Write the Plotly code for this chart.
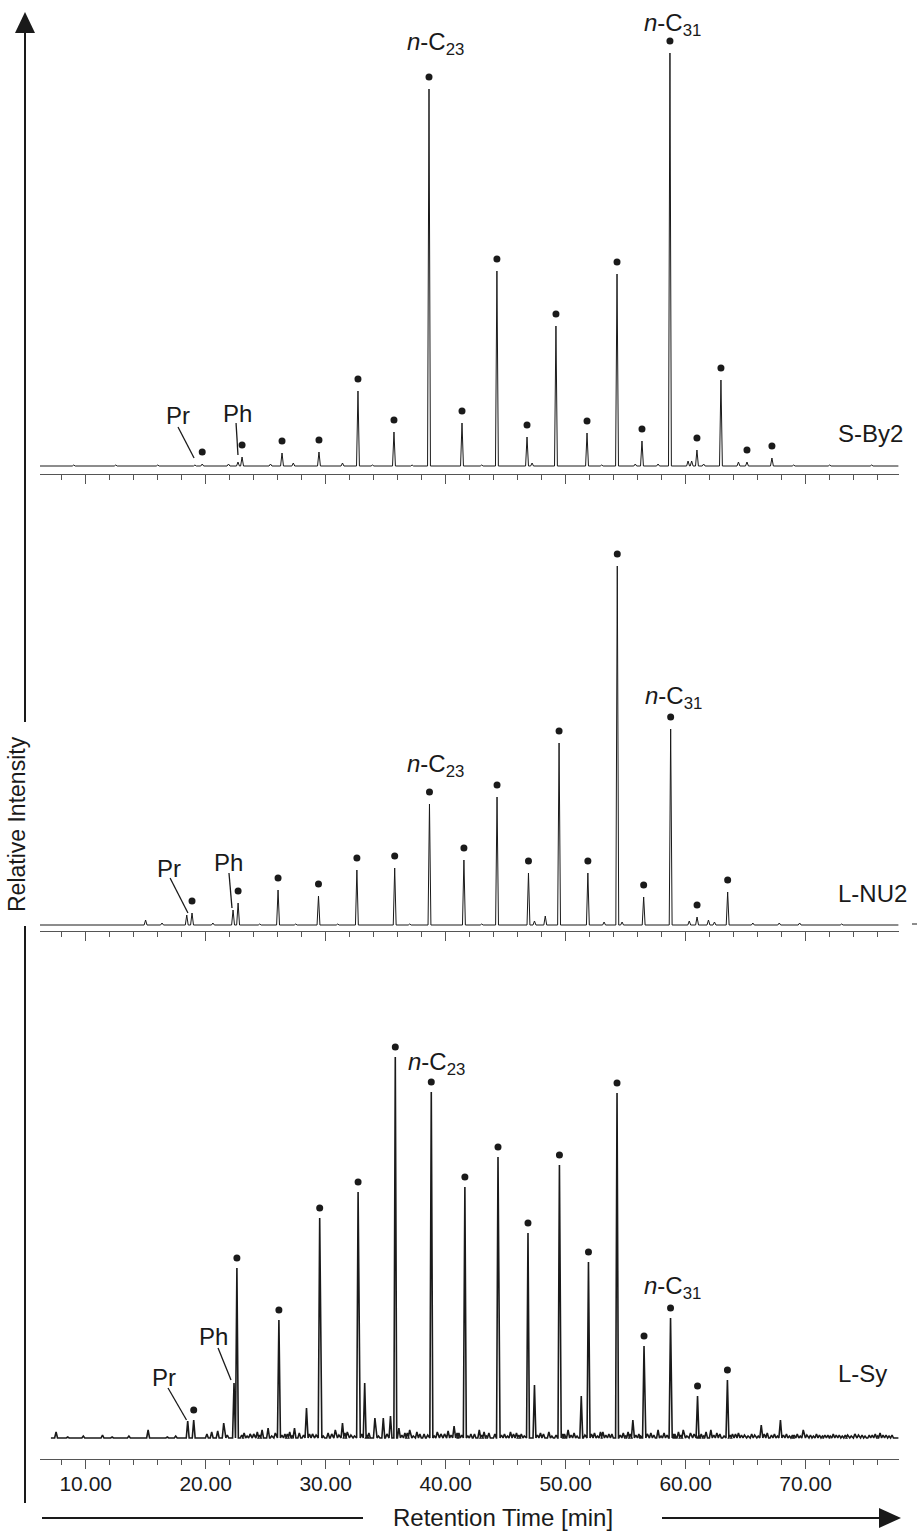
import numpy as np
import plotly.graph_objects as go

W, H = 919, 1532

# ------------------------------------------------------------------
# DATA  (retention time in min, intensity in arbitrary units)
# ------------------------------------------------------------------
# n-alkanes C17 ... C35 (S-By2), C17 ... C33 (L-NU2, L-Sy)
SBY2_ALK_T = [19.71, 23.03, 26.36, 29.44, 32.69, 35.69, 38.61, 41.36, 44.27, 46.78,
              49.19, 51.78, 54.28, 56.36, 58.69, 60.94, 62.94, 65.11, 67.19]
SBY2_ALK_I = [2, 9, 13, 14, 75, 34, 377, 43, 195, 29, 140, 33, 192, 25, 413, 16, 86, 4, 8]
SBY2_PRPH_T = [19.10, 22.69]
SBY2_PRPH_I = [1, 4]
SBY2_MINOR_T = [9.0, 12.5, 16.0, 21.9, 25.4, 27.3, 31.4, 33.9, 37.2, 43.0, 47.2, 53.0,
                55.8, 57.7, 60.2, 60.5, 61.5, 64.4, 69.0, 72.0, 75.5]
SBY2_MINOR_I = [1, 1, 1, 2, 2, 3, 3, 1, 1, 1, 3, 1, 2, 2, 5, 5, 2, 4, 1, 1, 1]

NU2_ALK_T = [18.86, 22.70, 26.03, 29.40, 32.60, 35.75, 38.65, 41.52, 44.28, 46.90,
             49.45, 51.85, 54.30, 56.50, 58.75, 60.95, 63.50]
NU2_ALK_I = [12, 22, 35, 29, 55, 57, 121, 65, 128, 52, 182, 52, 359, 28, 196, 8, 33]
NU2_PRPH_T = [18.42, 22.28]
NU2_PRPH_I = [10, 15]
NU2_MINOR_T = [14.99, 16.36, 20.6, 24.5, 27.5, 31.0, 37.0, 43.0, 47.4, 48.3, 53.2,
               54.7, 60.3, 61.9, 62.4, 65.6, 67.8, 69.5, 73.0]
NU2_MINOR_I = [5, 2, 2, 1, 1, 1, 1, 1, 4, 9, 3, 3, 4, 5, 3, 2, 2, 2, 1]

SY_ALK_T = [19.00, 22.60, 26.10, 29.50, 32.70, 35.80, 38.80, 41.60, 44.36, 46.86,
            49.48, 51.90, 54.28, 56.53, 58.74, 60.99, 63.48]
SY_ALK_I = [18, 170, 118, 220, 246, 381, 346, 251, 281, 205, 273, 176, 345, 92, 120, 42, 58]
SY_PRPH_T = [18.50, 22.36]
SY_PRPH_I = [17, 55]
SY_MINOR_T = [7.53, 11.4, 15.2, 20.5, 21.0, 21.5, 24.3, 24.7, 25.2, 27.4, 28.4, 30.8,
              31.4, 33.25, 34.1, 34.8, 35.4, 36.1, 37.0, 40.7, 42.8, 47.4, 50.2, 51.3,
              53.1, 55.6, 57.7, 59.8, 62.1, 66.3, 67.9, 69.8, 76.2]
SY_MINOR_I = [6, 3, 8, 6, 7, 15, 6, 8, 10, 10, 30, 8, 15, 55, 20, 20, 22, 10, 8, 12, 8,
              53, 8, 42, 6, 18, 8, 8, 8, 13, 18, 8, 5]
SY_NOISE_T = [8.5, 9.8, 12.2, 13.6, 16.8, 17.5, 20.1, 21.8, 23.2, 23.7, 25.8, 26.6, 27.0,
              27.8, 28.9, 30.2, 31.8, 33.6, 36.6, 37.6, 38.2, 39.3, 39.9, 40.2, 41.1, 42.1,
              43.2, 43.6, 44.9, 45.4, 45.9, 46.3, 47.9, 48.6, 49.9, 50.7, 52.4, 52.9, 53.6,
              54.8, 55.2, 56.1, 57.1, 58.2, 59.1, 59.4, 60.4, 61.3, 61.7, 62.6, 63.9, 64.4,
              64.9, 65.5, 66.8, 67.4, 68.4, 68.9, 69.3, 70.4, 70.9, 71.6, 72.3, 72.8, 73.5,
              74.1, 74.7, 75.3, 75.8, 76.7, 77.2]
SY_NOISE_I = [1, 2, 1, 2, 1, 2, 4, 3, 5, 4, 5, 4, 6, 5, 4, 5, 6, 5, 5, 6, 4, 6, 4, 7, 5, 4,
              6, 5, 4, 6, 5, 4, 5, 6, 4, 5, 5, 6, 4, 5, 6, 4, 5, 5, 4, 6, 5, 4, 6, 5, 4, 5,
              3, 4, 5, 4, 4, 3, 4, 3, 4, 3, 4, 3, 3, 4, 3, 3, 4, 3, 3]
SY_NOISE2_T = [23.0, 23.45, 24.0, 24.5, 25.5, 26.35, 26.8, 27.2, 28.15, 28.65, 29.2, 29.8,
               30.5, 31.1, 31.6, 32.1, 32.4, 33.0, 33.45, 34.4, 35.1, 36.35, 36.8, 37.3,
               37.85, 38.5, 39.05, 39.6, 40.45, 40.95, 41.35, 41.85, 42.4, 43.0, 43.4, 44.1,
               44.65, 45.15, 45.65, 46.1, 46.55, 47.65, 48.15, 48.85, 49.2, 49.75, 50.45,
               50.95, 51.6, 52.15, 52.65, 53.35, 53.85, 54.55, 55.0, 55.4, 55.85, 56.25,
               56.8, 57.35, 57.95, 58.45, 59.0, 59.6, 60.1, 60.7, 61.1, 61.5, 62.35, 62.85,
               63.2, 63.7, 64.15, 64.65, 65.2, 65.75, 66.05, 66.55, 67.15, 67.65, 68.15,
               68.65, 69.05, 69.55, 70.1, 70.65, 71.15, 71.4, 71.85, 72.05, 72.55, 73.05,
               73.3, 73.8, 74.4, 74.95, 75.55, 76.0, 76.45, 76.95]
SY_NOISE2_I = [3, 2, 4, 3, 2, 3, 4, 2, 3, 4, 3, 2, 4, 3, 5, 3, 2, 4, 3, 2, 4, 3, 5, 2,
               4, 3, 2, 4, 3, 5, 3, 2, 4, 3, 2, 4, 3, 2, 4, 3, 2, 3, 4, 2, 3, 4, 3, 2,
               3, 4, 2, 3, 4, 3, 2, 4, 3, 2, 4, 3, 2, 3, 4, 3, 2, 4, 3, 2, 3, 4, 2, 3,
               4, 3, 2, 3, 2, 4, 3, 2, 3, 2, 3, 2, 3, 2, 3, 2, 3, 2, 3, 2, 3, 2, 3, 2,
               3, 2, 3, 2]

SAMPLES = ["S-By2", "L-NU2", "L-Sy"]
MAJOR_TICKS = [10, 20, 30, 40, 50, 60, 70]
MINOR_TICKS = [8, 12, 14, 16, 18, 22, 24, 26, 28, 32, 34, 36, 38, 42, 44, 46, 48,
               52, 54, 56, 58, 62, 64, 66, 68, 72, 74, 76]

# ------------------------------------------------------------------
# LAYOUT helpers (pixel geometry)
# ------------------------------------------------------------------
X_RANGE = [6.19, 77.78]
X_DOM = [40 / W, 899 / W]

def py(p):
    return 1 - p / H

# panel geometry: axis line px, baseline px, top px
PANELS = [
    dict(axis=474, base=466, top=14, start=6.19, lw=1.0, dot=12),
    dict(axis=931, base=925, top=490, start=6.19, lw=1.0, dot=12),
    dict(axis=1459, base=1438, top=1000, start=7.10, lw=1.6, dot=10),
]

FONT = "Liberation Sans, Arial, Helvetica, sans-serif"
TICKFONT = "Liberation Sans Narrow, Arial Narrow, Liberation Sans, Arial, sans-serif"
INK = "#1a1a1a"
AXC = "#555555"

series = [
    (SBY2_ALK_T, SBY2_ALK_I, SBY2_PRPH_T, SBY2_PRPH_I, SBY2_MINOR_T, SBY2_MINOR_I),
    (NU2_ALK_T, NU2_ALK_I, NU2_PRPH_T, NU2_PRPH_I, NU2_MINOR_T, NU2_MINOR_I),
    (SY_ALK_T, SY_ALK_I, SY_PRPH_T, SY_PRPH_I,
     SY_MINOR_T + SY_NOISE_T + SY_NOISE2_T, SY_MINOR_I + SY_NOISE_I + SY_NOISE2_I),
]

def build_trace(ts, hs, t0, t1, hw=0.12):
    order = np.argsort(ts)
    xs, ys = [t0], [0.0]
    for k in order:
        t, h = ts[k], hs[k]
        xs += [t - hw, t, t + hw]
        ys += [0.0, h, 0.0]
    xs.append(t1)
    ys.append(0.0)
    return xs, ys

fig = go.Figure()
annotations = []
shapes = []

for i, (pan, ser) in enumerate(zip(PANELS, series)):
    at, ai, pt, pi, mt, mi = ser
    n = "" if i == 0 else str(i + 1)
    xref, yref = "x" + n, "y" + n
    allt = list(at) + list(pt) + list(mt)
    alli = list(ai) + list(pi) + list(mi)
    xs, ys = build_trace(allt, alli, pan["start"], X_RANGE[1] - 0.05)
    fig.add_trace(go.Scatter(x=xs, y=ys, mode="lines", xaxis=xref, yaxis=yref,
                             line=dict(color=INK, width=pan["lw"]), hoverinfo="skip",
                             showlegend=False))
    fig.add_trace(go.Scatter(x=at, y=[v + pan["dot"] for v in ai], mode="markers",
                             xaxis=xref, yaxis=yref, marker=dict(color=INK, size=7),
                             hoverinfo="skip", showlegend=False, cliponaxis=False))

    below = pan["axis"] - pan["base"]
    height = pan["axis"] - pan["top"]
    ykey = "yaxis" + n
    xkey = "xaxis" + n
    fig.layout[ykey] = dict(domain=[py(pan["axis"]), py(pan["top"])],
                            range=[-below, height - below], visible=False,
                            anchor=xref, fixedrange=True)
    fig.layout[xkey] = dict(domain=X_DOM, range=X_RANGE, anchor=yref,
                            showline=True, linecolor=AXC, linewidth=1.4 if i == 1 else 1,
                            showgrid=False, zeroline=False,
                            ticks="outside", ticklen=9, tickwidth=1, tickcolor=AXC,
                            tickmode="array", tickvals=MAJOR_TICKS,
                            ticktext=["%.2f" % v for v in MAJOR_TICKS],
                            showticklabels=(i == 2), ticklabelstandoff=-3,
                            tickfont=dict(family=TICKFONT, size=21, color=INK),
                            minor=dict(ticks="outside", ticklen=5, tickwidth=1,
                                       tickcolor=AXC, tickvals=MINOR_TICKS),
                            fixedrange=True)

    def ann(x, y, text, **kw):
        d = dict(x=x, y=y, xref=xref, yref=yref, text=text, showarrow=False,
                 font=dict(family=FONT, size=24, color=INK))
        d.update(kw)
        annotations.append(d)

    def seg(x0, y0, x1, y1):
        shapes.append(dict(type="line", xref=xref, yref=yref, x0=x0, y0=y0, x1=x1, y1=y1,
                           line=dict(color=INK, width=1.3)))

    c23 = 6  # index of n-C23 (C17 is index 0)
    c31 = 14
    prt, pht = pt
    pri, phi = pi
    label_y = [33, 32, 65][i]
    ann(72.53, label_y, SAMPLES[i], xanchor="left", yanchor="middle")
    if i == 0:
        ann(at[c23] + 0.5, ai[c23] + 45, "<i>n</i>-C<sub>23</sub>")
        ann(at[c31] + 0.25, ai[c31] + 28, "<i>n</i>-C<sub>31</sub>")
        ann(prt - 1.41, pri + 50, "Pr")
        seg(prt - 1.41, pri + 38, prt - 0.07, pri + 7)
        ann(pht - 0.08, phi + 49, "Ph")
        seg(pht - 0.16, phi + 39, pht, phi + 7)
    elif i == 1:
        ann(at[c23] + 0.5, ai[c23] + 39, "<i>n</i>-C<sub>23</sub>")
        ann(at[c31] + 0.2, ai[c31] + 32, "<i>n</i>-C<sub>31</sub>")
        ann(prt - 1.48, pri + 47, "Pr")
        seg(prt - 1.39, pri + 37, prt + 0.1, pri + 2)
        ann(pht - 0.34, phi + 48, "Ph")
        seg(pht - 0.34, phi + 37, pht - 0.09, phi + 2)
    else:
        ann(at[c23] + 0.4, ai[c23] + 29, "<i>n</i>-C<sub>23</sub>")
        ann(at[c31] + 0.2, ai[c31] + 31, "<i>n</i>-C<sub>31</sub>")
        ann(prt - 1.97, pri + 44, "Pr")
        seg(prt - 1.64, pri + 33, prt - 0.1, pri + 1)
        ann(pht - 1.67, phi + 47, "Ph")
        seg(pht - 1.33, phi + 35, pht - 0.25, phi + 3)

# ---- outer axes: vertical intensity arrow and horizontal time arrow ----
def P(x, y):
    return x / W, py(y)

VX = 25
GAP = (722, 926)
for (ya, yb) in [(33, GAP[0]), (GAP[1], 1503)]:
    shapes.append(dict(type="line", xref="paper", yref="paper",
                       x0=VX / W, y0=py(ya), x1=VX / W, y1=py(yb),
                       line=dict(color=INK, width=2)))
a, b, c = P(15, 33), P(35, 33), P(25, 12)
shapes.append(dict(type="path", xref="paper", yref="paper",
                   path=f"M {a[0]},{a[1]} L {b[0]},{b[1]} L {c[0]},{c[1]} Z",
                   fillcolor=INK, line=dict(color=INK, width=0)))

HY = 1518
for (xa, xb) in [(42, 363), (662, 880)]:
    shapes.append(dict(type="line", xref="paper", yref="paper",
                       x0=xa / W, y0=py(HY), x1=xb / W, y1=py(HY),
                       line=dict(color=INK, width=2)))
a, b, c = P(879, HY - 10), P(879, HY + 10), P(901, HY)
shapes.append(dict(type="path", xref="paper", yref="paper",
                   path=f"M {a[0]},{a[1]} L {b[0]},{b[1]} L {c[0]},{c[1]} Z",
                   fillcolor=INK, line=dict(color=INK, width=0)))
# small dash at right of middle panel
shapes.append(dict(type="line", xref="paper", yref="paper",
                   x0=912 / W, y0=py(924), x1=917 / W, y1=py(924),
                   line=dict(color=INK, width=1)))

annotations.append(dict(x=503 / W, y=py(1517), xref="paper", yref="paper",
                        text="Retention Time [min]", showarrow=False,
                        font=dict(family=FONT, size=24, color=INK),
                        xanchor="center", yanchor="middle"))
annotations.append(dict(x=17 / W, y=py(824), xref="paper", yref="paper",
                        text="Relative Intensity", showarrow=False, textangle=-90,
                        font=dict(family=FONT, size=23, color=INK),
                        xanchor="center", yanchor="middle"))

fig.update_layout(width=W, height=H, autosize=False,
                  margin=dict(l=0, r=0, t=0, b=0, pad=0),
                  paper_bgcolor="white", plot_bgcolor="white",
                  annotations=annotations, shapes=shapes, showlegend=False)

fig.write_html("out.html", config={"displayModeBar": False})
